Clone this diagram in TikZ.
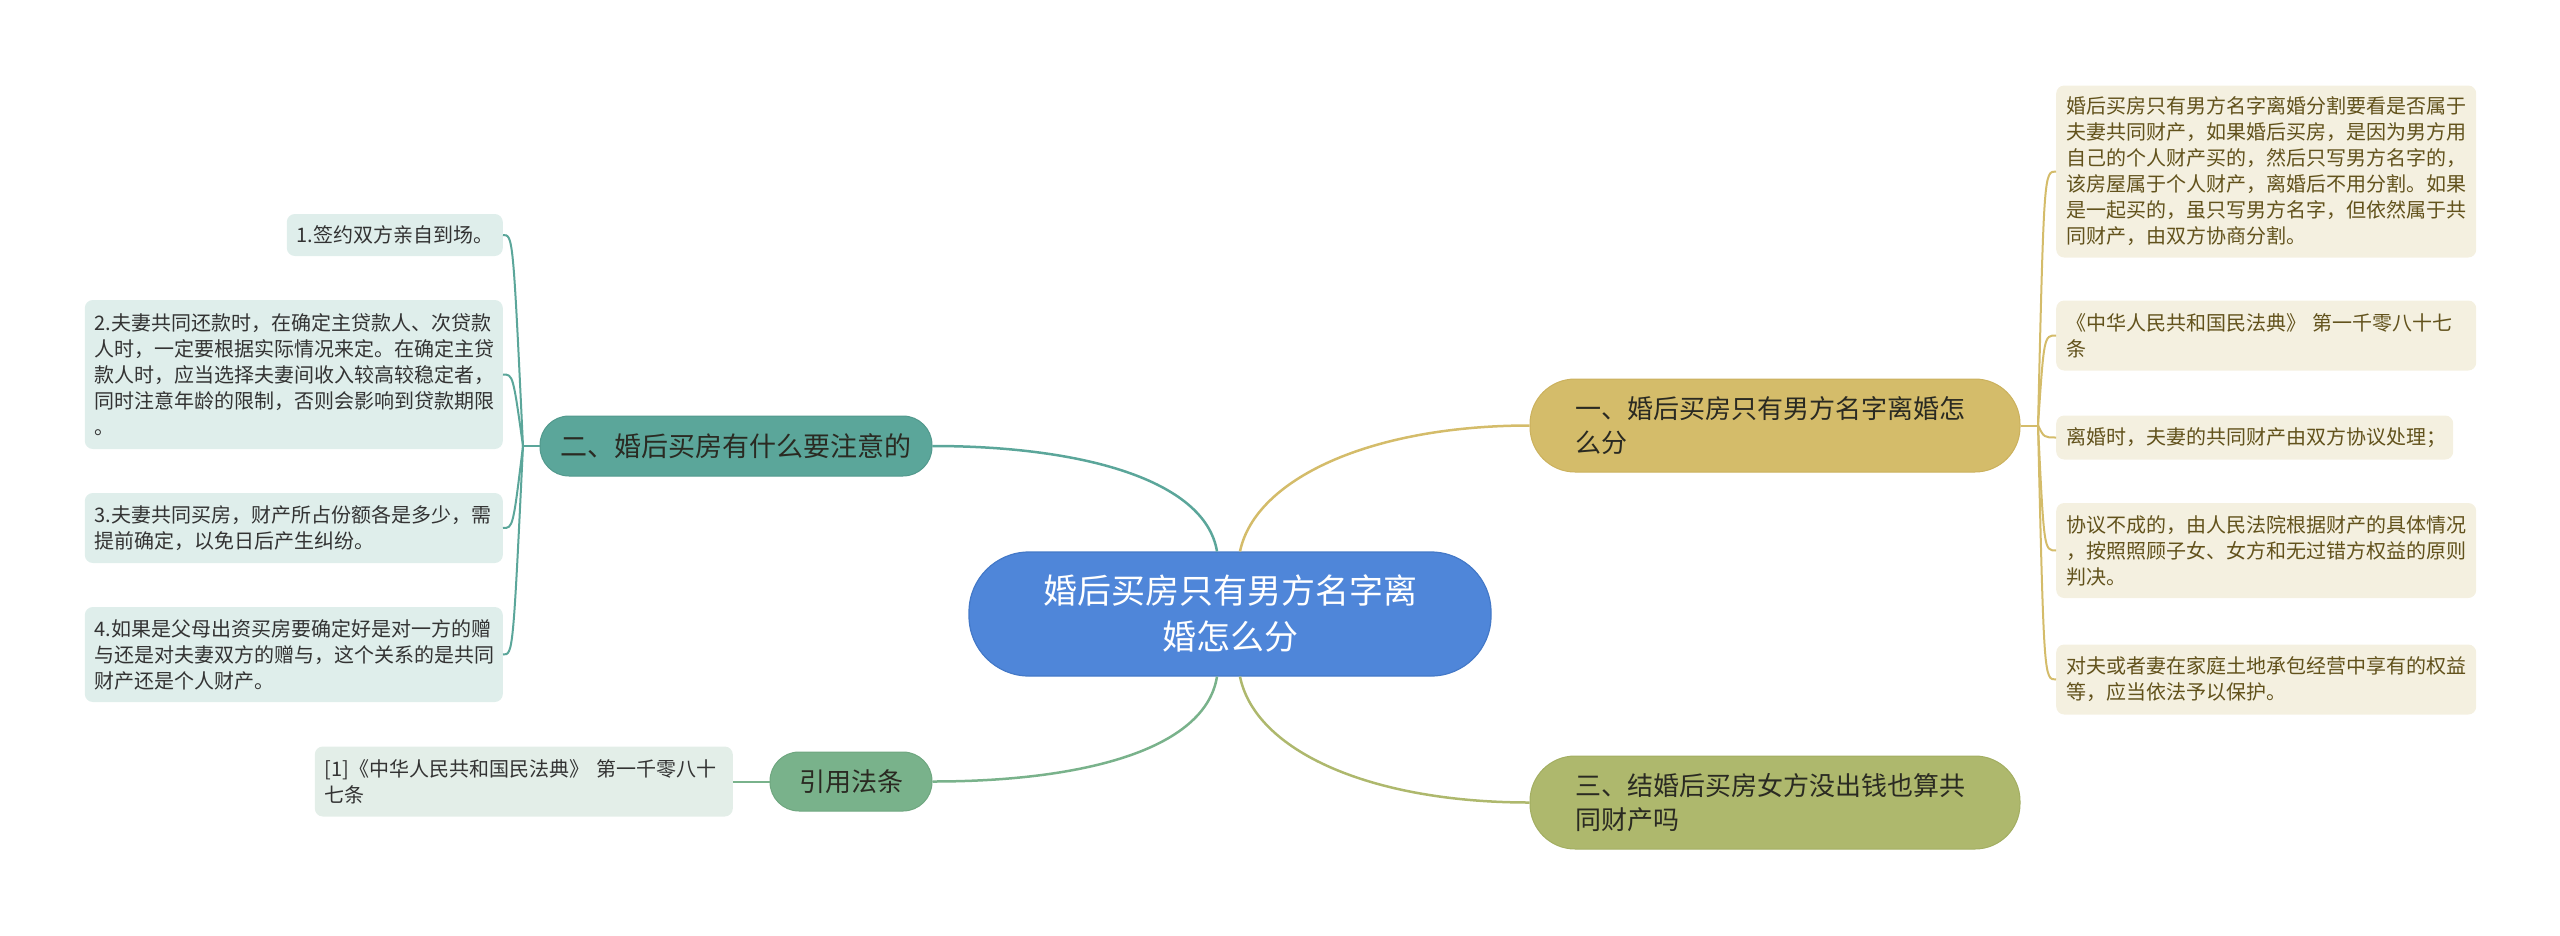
\documentclass[tikz,border=0pt]{standalone}
\usepackage{fontspec}
\setmainfont{Noto Sans CJK SC}
\usetikzlibrary{calc}
\definecolor{cBlue}{HTML}{4F86D9}
\definecolor{cBlueD}{HTML}{4479C8}
\definecolor{cGold}{HTML}{D4BC6A}
\definecolor{cGoldD}{HTML}{CBB15D}
\definecolor{cOlive}{HTML}{AEB86D}
\definecolor{cOliveD}{HTML}{A3AE62}
\definecolor{cTeal}{HTML}{5BA69A}
\definecolor{cTealD}{HTML}{52998D}
\definecolor{cGreen}{HTML}{79B28B}
\definecolor{cGreenD}{HTML}{6FA780}
\definecolor{lTealBg}{HTML}{DFEEEB}
\definecolor{lCreamBg}{HTML}{F4F0E0}
\definecolor{lRefBg}{HTML}{E3EEE8}
\definecolor{tDark}{HTML}{333333}
\definecolor{tBrown}{HTML}{62521C}
\definecolor{tBranch}{HTML}{2A2A22}
\newcommand\leafF{\fontsize{20}{26}\selectfont}
\newcommand\branchF{\fontsize{26}{34}\selectfont}
\newcommand\centerF{\fontsize{34}{46}\selectfont}
\tikzset{
  leafbase/.style={rounded corners=8pt, inner xsep=10pt, inner ysep=0pt, align=left, font=\leafF},
  leafL/.style={leafbase, fill=lTealBg, text=tDark},
  leafR/.style={leafbase, fill=lCreamBg, text=tBrown},
  leafRef/.style={leafbase, fill=lRefBg, text=tDark},
  branchbox/.style={inner ysep=0pt, font=\branchF, text=tBranch, line width=1pt},
  lnBlueTeal/.style={draw=cTeal, line width=2.5pt},
  lnTeal/.style={draw=cTeal, line width=2pt},
  lnGold/.style={draw=cGold, line width=2.5pt},
  lnGoldS/.style={draw=cGold, line width=2pt},
  lnOlive/.style={draw=cOlive, line width=2.5pt},
  lnGreen/.style={draw=cGreen, line width=2.5pt}
}
\begin{document}
\begin{tikzpicture}[x=1pt,y=-1pt]
\useasboundingbox (0,0) rectangle (2560,935);

% center
\node[fill=cBlue, draw=cBlueD, line width=1.2pt, rounded corners=60pt, minimum width=522pt, minimum height=124pt, text width=420pt, align=center, inner xsep=0pt, font=\centerF, text=white] (C) at (1230,614) {婚后买房只有男方名字离\\婚怎么分};

% branches
\node[branchbox, fill=cGold, draw=cGoldD, rounded corners=45pt, minimum width=490pt, minimum height=93pt, text width=400pt, align=left, inner xsep=45pt] (B1) at (1775,425.5) {一、婚后买房只有男方名字离婚怎\\么分};
\node[branchbox, fill=cOlive, draw=cOliveD, rounded corners=45pt, minimum width=490pt, minimum height=93pt, text width=400pt, align=left, inner xsep=45pt] (B3) at (1775,802.5) {三、结婚后买房女方没出钱也算共\\同财产吗};
\node[branchbox, fill=cTeal, draw=cTealD, rounded corners=29pt, minimum width=392pt, minimum height=60pt, font=\fontsize{27}{34}\selectfont, text=tBranch] (B2) at (736,446) {二、婚后买房有什么要注意的};
\node[branchbox, fill=cGreen, draw=cGreenD, rounded corners=29pt, minimum width=162pt, minimum height=59pt] (B4) at (851,781.5) {引用法条};

% left leaves
\node[leafL, anchor=east, text width=196pt, minimum height=42pt] (L1) at (503,235) {1.签约双方亲自到场。};
\node[leafL, anchor=east, text width=398pt, minimum height=149pt] (L2) at (503,374.5) {2.夫妻共同还款时，在确定主贷款人、次贷款\\人时，一定要根据实际情况来定。在确定主贷\\款人时，应当选择夫妻间收入较高较稳定者，\\同时注意年龄的限制，否则会影响到贷款期限\\。};
\node[leafL, anchor=east, text width=398pt, minimum height=70pt] (L3) at (503,528) {3.夫妻共同买房，财产所占份额各是多少，需\\提前确定，以免日后产生纠纷。};
\node[leafL, anchor=east, text width=398pt, minimum height=95pt] (L4) at (503,654.5) {4.如果是父母出资买房要确定好是对一方的赠\\与还是对夫妻双方的赠与，这个关系的是共同\\财产还是个人财产。};
\node[leafRef, anchor=east, text width=398pt, minimum height=70pt] (LR) at (733,781.5) {[1]《中华人民共和国民法典》 第一千零八十\\七条};

% right leaves
\node[leafR, anchor=west, text width=400pt, minimum height=172pt] (R1) at (2056,171.5) {婚后买房只有男方名字离婚分割要看是否属于\\夫妻共同财产，如果婚后买房，是因为男方用\\自己的个人财产买的，然后只写男方名字的，\\该房屋属于个人财产，离婚后不用分割。如果\\是一起买的，虽只写男方名字，但依然属于共\\同财产，由双方协商分割。};
\node[leafR, anchor=west, text width=400pt, minimum height=70pt] (R2) at (2056,335.5) {《中华人民共和国民法典》 第一千零八十七\\条};
\node[leafR, anchor=west, text width=377pt, minimum height=44pt] (R3) at (2056,437.5) {离婚时，夫妻的共同财产由双方协议处理；};
\node[leafR, anchor=west, text width=400pt, minimum height=95pt] (R4) at (2056,550.5) {协议不成的，由人民法院根据财产的具体情况\\，按照照顾子女、女方和无过错方权益的原则\\判决。};
\node[leafR, anchor=west, text width=400pt, minimum height=70pt] (R5) at (2056,679.5) {对夫或者妻在家庭土地承包经营中享有的权益\\等，应当依法予以保护。};

% junctions
\coordinate (J2) at (523,446);
\coordinate (J1) at (2038,425.5);

% center connectors
\draw[lnBlueTeal] ($(C.north)+(-13,0)$) .. controls +(-12,-72) and +(148,0) .. (B2.east);
\draw[lnGold] ($(C.north)+(10,0)$) .. controls +(15,-72) and +(-160,0) .. (B1.west);
\draw[lnGreen] ($(C.south)+(-13,0)$) .. controls +(-12,74) and +(148,0) .. (B4.east);
\draw[lnOlive] ($(C.south)+(10,0)$) .. controls +(15,74) and +(-160,0) .. (B3.west);

% left leaf connectors
\draw[lnTeal] (B2.west) -- (J2);
\foreach \n in {L1,L2,L3,L4}{
  \draw[lnTeal] (J2) .. controls ($(J2|-\n.east)+(-10,0)$) .. (\n.east);
}
\draw[lnGreen, line width=2pt] (B4.west) -- (LR.east);

% right leaf connectors
\draw[lnGoldS] (B1.east) -- (J1);
\foreach \n in {R1,R2,R3,R4,R5}{
  \draw[lnGoldS] (J1) .. controls ($(J1|-\n.west)+(6,0)$) .. (\n.west);
}
\end{tikzpicture}
\end{document}
